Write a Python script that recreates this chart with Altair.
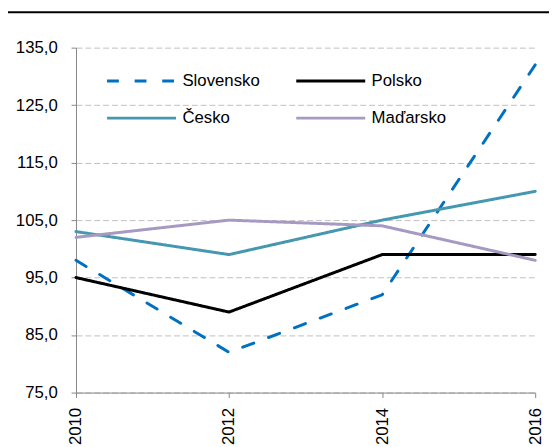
import altair as alt
import pandas as pd

years = [2010, 2012, 2014, 2016]
series_names = ["Slovensko", "Polsko", "Česko", "Maďarsko"]
slovensko = [98.0, 82.0, 92.0, 132.0]
polsko = [95.0, 89.0, 99.0, 99.0]
cesko = [103.0, 99.0, 105.0, 110.0]
madarsko = [102.0, 105.0, 104.0, 98.0]
y_ticks = [75, 85, 95, 105, 115, 125, 135]
colors = ["#0070C0", "#000000", "#4598AF", "#A69AC2"]
dashes = [[12, 16], [1, 0], [1, 0], [1, 0]]

rows = []
for name, vals in zip(series_names, [slovensko, polsko, cesko, madarsko]):
    for yr, v in zip(years, vals):
        rows.append({"rok": yr, "hodnota": v, "krajina": name})
df = pd.DataFrame(rows)

FONT = "Liberation Sans, Arial, sans-serif"
FS = 17

# long flat stroke symbol: path is 3x wider than the nominal symbol size
legend = alt.Legend(
    title=None, orient="none", legendX=53, legendY=20, columns=2,
    direction="horizontal",
    columnPadding=30, rowPadding=16, symbolType="M-3,0H3", symbolSize=544,
    symbolStrokeWidth=3, labelFontSize=FS, labelFont=FONT, labelColor="#000000",
    labelOffset=28, labelLimit=300,
)

lines = alt.Chart(df).mark_line(strokeWidth=3, strokeCap="round").encode(
    x=alt.X("rok:Q", scale=alt.Scale(domain=[2010, 2016], nice=False, zero=False),
            axis=alt.Axis(values=years, format="d", title=None, grid=False,
                          labelAngle=-90, labelPadding=10, tickSize=5,
                          domainColor="#868686", tickColor="#868686",
                          labelFontSize=FS, labelFont=FONT, labelColor="#000000")),
    y=alt.Y("hodnota:Q", scale=alt.Scale(domain=[75, 135], nice=False, zero=False),
            axis=alt.Axis(values=y_ticks, title=None, grid=True,
                          gridColor="#BFBFBF", gridDash=[6, 3], gridWidth=1,
                          labelExpr="replace(format(datum.value, '.1f'), '.', ',')",
                          labelPadding=14, tickSize=5,
                          domainColor="#868686", tickColor="#868686",
                          labelFontSize=FS, labelFont=FONT, labelColor="#000000")),
    color=alt.Color("krajina:N", scale=alt.Scale(domain=series_names, range=colors),
                    legend=legend),
    strokeDash=alt.StrokeDash("krajina:N", scale=alt.Scale(domain=series_names, range=dashes),
                              legend=legend),
    order=alt.Order("rok:Q"),
)

top_rule = alt.Chart(pd.DataFrame({"v": [0]})).mark_rule(color="#000000", strokeWidth=2).encode(
    x=alt.value(-69), x2=alt.value(480), y=alt.value(-36)
)

chart = alt.layer(lines, top_rule).properties(
    width=466, height=350,
    autosize=alt.AutoSizeParams(type="none"),
    padding={"left": 69, "top": 37, "right": 14, "bottom": 52},
).configure_view(stroke=None)

chart.save("out.html", embed_options={"renderer": "svg", "actions": False})
